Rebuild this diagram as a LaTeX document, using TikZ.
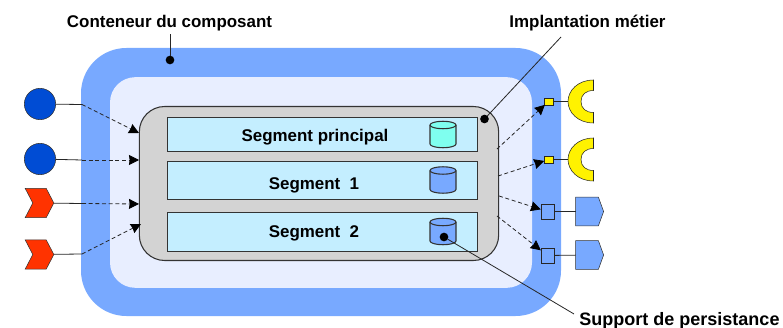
\documentclass[tikz,border=0pt]{standalone}
\usepackage{fontspec}
\setmainfont{Liberation Sans}
\usepackage{tikz}
\usetikzlibrary{arrows.meta,shapes.geometric,shapes.symbols}
\definecolor{bleucont}{HTML}{78A9FF}
\definecolor{bleupale}{HTML}{E8EEFF}
\definecolor{bleuseg}{HTML}{C4EEFF}
\definecolor{bleufonce}{HTML}{004CD4}
\definecolor{cyanbase}{HTML}{7FFFEF}
\definecolor{rouge}{HTML}{FF3300}
\definecolor{gris}{HTML}{D3D3D3}

\begin{document}
\begin{tikzpicture}[x=0.75pt, y=-0.75pt, >={Stealth[length=7.5pt,width=7.5pt,inset=0.5pt,black]}]
	\tikzstyle{bloc} = [rectangle, inner sep=0pt, outer sep=0pt]
	\tikzstyle{segment} = [bloc, draw=black!80, fill=bleuseg, minimum width=232.5pt]
	\tikzstyle{cuve} = [draw=black!80, thick]
	\tikzstyle{rond} = [draw=black!80, circle, fill=bleufonce, minimum size=23.5pt, inner sep=0pt, outer sep=0pt]
	\tikzstyle{chevron} = [draw=black!80, signal, signal from=west, signal to=east, signal pointer angle=125, fill=rouge, minimum width=21.5pt, minimum height=22pt, inner sep=0pt, outer sep=0pt]
	\tikzstyle{fleche} = [signal, signal to=east, signal pointer angle=140, draw=black!80, fill=bleucont, minimum width=21pt, minimum height=21.5pt, inner sep=0pt, outer sep=0pt]
	\tikzstyle{carre} = [bloc, draw=black!85, fill=bleucont, minimum width=10pt, minimum height=11pt]
	\tikzstyle{petit} = [bloc, draw=black!85, fill=yellow, minimum width=6.5pt, minimum height=5pt]
	\tikzstyle{point} = [circle, fill=black, minimum size=6.5pt, inner sep=0pt, outer sep=0pt]
	\tikzstyle{etiquette} = [inner sep=0pt, font=\bfseries\fontsize{12.7}{14}\selectfont]
	\tikzstyle{plein} = [black!85, semithick]
	\tikzstyle{tirets} = [->, black!85, dash pattern=on 3pt off 2pt, semithick]

	\useasboundingbox (0,0) rectangle (783,328);

	% les trois fonds
	\node[bloc, fill=bleucont, rounded corners=34pt, minimum width=360pt, minimum height=201pt] (conteneur) at (321,182) {};
	\node[bloc, fill=bleupale, rounded corners=19pt, minimum width=316.5pt, minimum height=158pt] (interieur) at (321,182.5) {};
	\node[bloc, draw=black!80, thick, fill=gris, rounded corners=19pt, minimum width=269.5pt, minimum height=115.5pt] (metier) at (319,183.5) {};

	% segments
	\node[segment, minimum height=25.5pt] (seg0) at (322,134) {};
	\node[segment, minimum height=28.5pt] (seg1) at (322,180) {};
	\node[segment, minimum height=29pt] (seg2) at (322,231.5) {};
	\node[etiquette] (txt0) at (315,137.5) {Segment principal};
	\node[etiquette] (txt1) at (314,185.5) {Segment\ \ 1};
	\node[etiquette] (txt2) at (314,233.5) {Segment\ \ 2};
	\foreach \cy/\col in {134.5/cyanbase,180/bleucont,231.5/bleucont} {
		\draw[cuve, fill=\col] (430,\cy-9.5) -- (430,\cy+9.5) arc (180:360:9.75pt and 2.8pt) -- (456,\cy-9.5) arc (0:180:9.75pt and 2.8pt) -- cycle;
		\draw[cuve] (430,\cy-9.5) arc (180:360:9.75pt and 2.8pt);
	}

	% ports de gauche
	\node[rond] (e1) at (40,104) {};
	\node[rond] (e2) at (40,159) {};
	\node[chevron] (e3) at (39.5,203) {};
	\node[chevron] (e4) at (39.5,254.5) {};
	\coordinate (b1) at (82,104.5);
	\coordinate (b2) at (82,160);
	\coordinate (b3) at (82,203.5);
	\coordinate (b4) at (82,254);
	\coordinate (m1) at (139,133);
	\coordinate (m2) at (139,160);
	\coordinate (m3) at (139,204);
	\coordinate (m4) at (141,224);
	\foreach \i in {1,2,3,4} {
		\draw[plein] (e\i) -- (b\i);
		\draw[tirets] (b\i) -- (m\i);
	}

	% ports de droite
	\node[petit] (s1) at (548.5,101.5) {};
	\node[petit] (s2) at (548.5,159.5) {};
	\node[carre] (s3) at (547.5,211.5) {};
	\node[carre] (s4) at (547.5,255.5) {};
	\node[fleche] (f3) at (587,211.5) {};
	\node[fleche] (f4) at (587,255) {};
	\coordinate (c1) at (568,101.5);
	\coordinate (c2) at (568,159.5);
	\foreach \y/\n in {101.5/1,159.5/2} {
		\draw[draw=black!85, fill=yellow] (593.5,\y-21.5) .. controls (578,\y-21.5) and (568,\y-11) .. (c\n)
			.. controls (568,\y+11) and (578,\y+21.5) .. (593.5,\y+21.5) -- (593.5,\y+11)
			.. controls (586,\y+11) and (581,\y+7) .. (581,\y)
			.. controls (581,\y-7) and (586,\y-11) .. (593.5,\y-11) -- cycle;
		\draw[plein] (s\n) -- (c\n);
	}
	\draw[plein] (s3) -- (f3);
	\draw[plein] (s4) -- (f4);
	\coordinate (m5) at (497,149);
	\coordinate (m6) at (498,176);
	\coordinate (m7) at (499,196);
	\coordinate (m8) at (497,216);
	\draw[tirets] (m5) -- (s1);
	\draw[tirets] (m6) -- (s2);
	\draw[tirets] (m7) -- (s3);
	\draw[tirets] (m8) -- (s4);

	% renvois
	\node[etiquette] (lconteneur) at (169.5,23.5) {Conteneur du composant};
	\node[etiquette] (lmetier) at (587.5,23.5) {Implantation métier};
	\node[etiquette, font=\bfseries\fontsize{13.5}{15}\selectfont] (lsupport) at (679.5,320.5) {Support de persistance};
	\node[point] (p1) at (170,60) {};
	\node[point] (p2) at (484.5,119) {};
	\node[point] (p3) at (444,237) {};
	\coordinate (q1) at (170,34);
	\coordinate (q2) at (561,37);
	\coordinate (q3) at (574,314);
	\draw[plein] (p1) -- (q1);
	\draw[plein] (p2) -- (q2);
	\draw[plein] (p3) -- (q3);
\end{tikzpicture}
\end{document}
